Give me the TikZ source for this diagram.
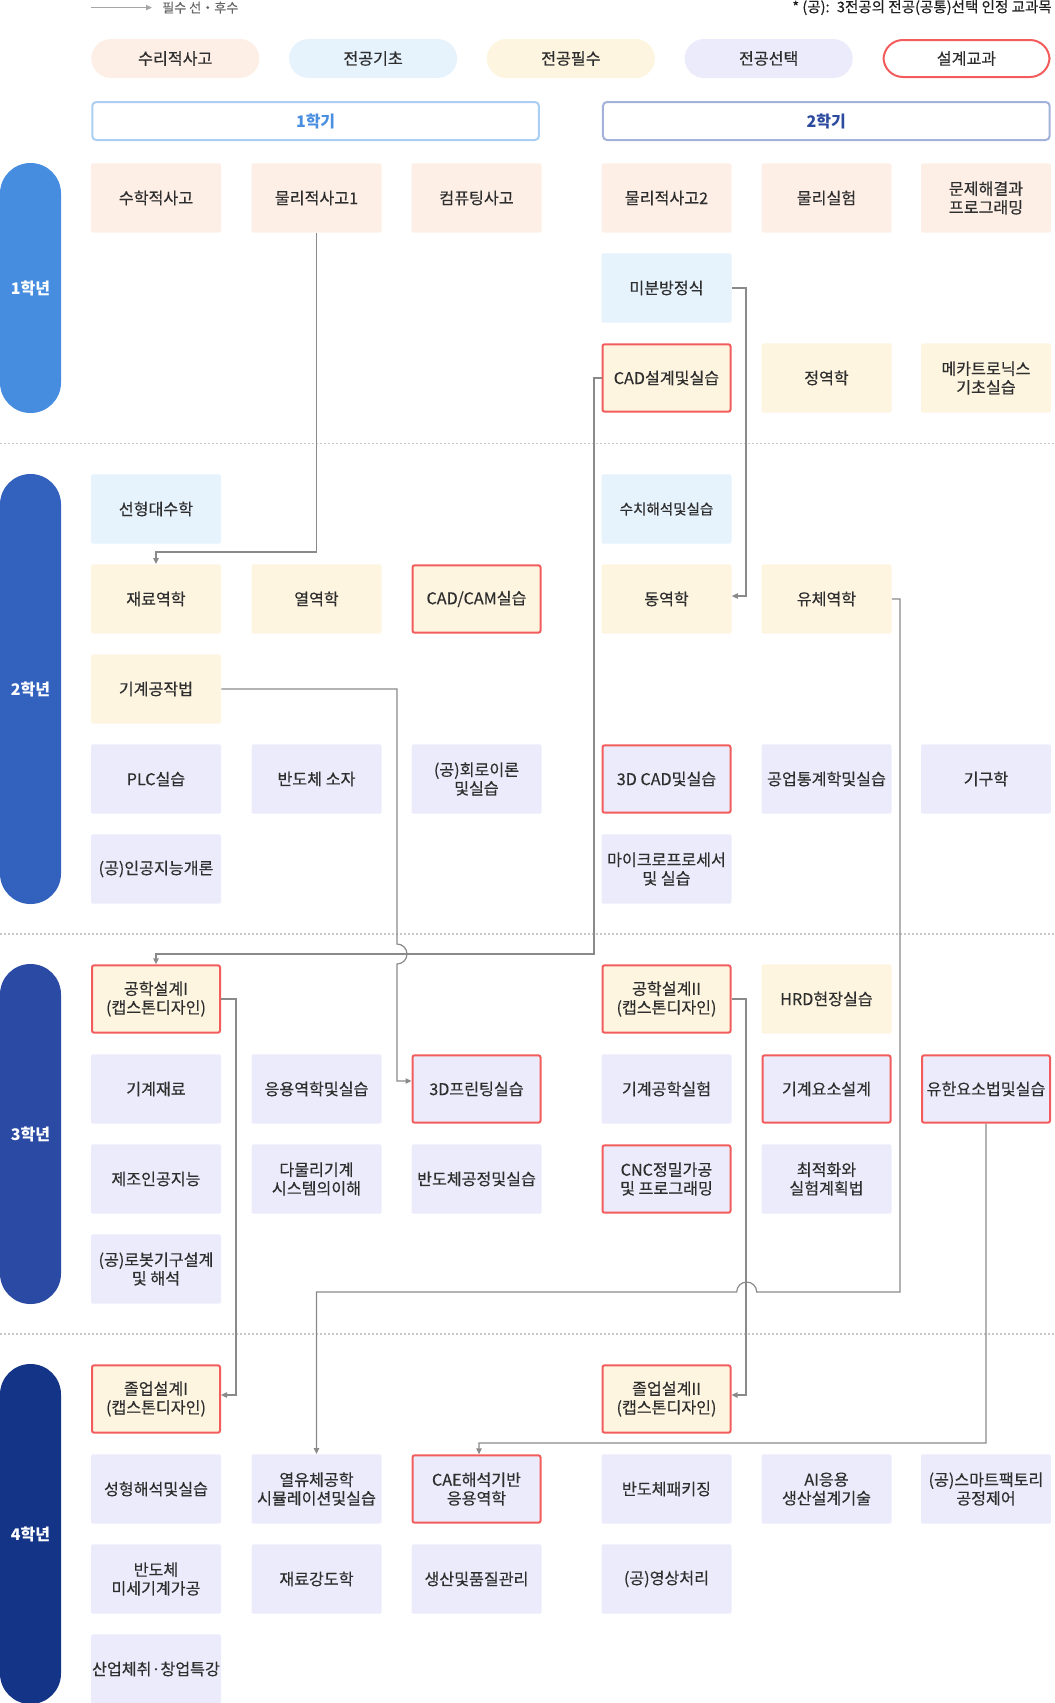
\documentclass[tikz,border=0pt]{standalone}
\usepackage{fontspec}
\setmainfont{Noto Sans CJK KR}
\newfontfamily\medfont{Noto Sans CJK KR}[FakeBold=0.35]
\usetikzlibrary{arrows.meta}
\definecolor{peach}{HTML}{FDEFE6}
\definecolor{sky}{HTML}{E6F3FD}
\definecolor{cream}{HTML}{FDF5E0}
\definecolor{lav}{HTML}{EBEBFB}
\definecolor{redb}{HTML}{F25C5C}
\definecolor{txt}{HTML}{2E2E2E}
\definecolor{yrA}{HTML}{468DE0}
\definecolor{yrB}{HTML}{3262BE}
\definecolor{yrC}{HTML}{2A4AA3}
\definecolor{yrD}{HTML}{143487}
\definecolor{connc}{HTML}{8A8A8A}
\definecolor{semA}{HTML}{ABCFF3}
\definecolor{semB}{HTML}{A3B2DA}
\definecolor{semAt}{HTML}{4A8FE0}
\definecolor{semBt}{HTML}{2C4A9E}
\begin{document}
\begin{tikzpicture}[x=0.75pt,y=-0.75pt,
  box/.style={minimum width=97.5pt, minimum height=52pt, inner sep=0pt, align=center,
    rounded corners=1.5pt, text=txt, font=\medfont\fontsize{12.1pt}{14pt}\selectfont},
  mathc/.style={box, fill=peach},
  basec/.style={box, fill=sky},
  reqc/.style={box, fill=cream},
  elecc/.style={box, fill=lav},
  design/.style={draw=redb, line width=1.5pt, minimum width=96pt, minimum height=50.5pt},
  yearpill/.style={minimum width=45.75pt, inner sep=0pt, rounded corners=22.8pt,
    text=white, font=\bfseries\fontsize{12pt}{14pt}\selectfont},
  legpill/.style={minimum width=126pt, minimum height=29.25pt, inner sep=0pt,
    rounded corners=14.6pt, text=txt, font=\medfont\fontsize{12.1pt}{14pt}\selectfont},
  sembox/.style={minimum width=335pt, minimum height=28.5pt, inner sep=0pt, fill=white,
    rounded corners=3pt, line width=1.5pt, font=\bfseries\fontsize{12pt}{14pt}\selectfont},
  sepline/.style={draw=black!22, line width=0.8pt, dash pattern=on 1.4pt off 1.6pt},
  conn/.style={draw=connc, line width=0.9pt, -{Triangle[length=4.5pt,width=4pt]}},
]
\useasboundingbox (0,0) rectangle (1054,1703);

% legend
\coordinate (la) at (91,7.6);
\coordinate (lb) at (152,7.6);
\draw[draw=black!35, line width=0.9pt, -{Triangle[length=4.5pt,width=4pt]}] (la) -- (lb);
\node[anchor=west, inner sep=0pt, text=black!60, font=\medfont\fontsize{9.8pt}{11pt}\selectfont] (legtxt) at (162,7.6) {필수 선・후수};
\node[anchor=east, inner sep=0pt, text=black!88, font=\medfont\fontsize{10.9pt}{12pt}\selectfont] (note) at (1052,7.6) {* (공):\enspace 3전공의 전공(공통)선택 인정 교과목};

\node[legpill, fill=peach] (lg1) at (175.3,58.5) {수리적사고};
\node[legpill, fill=sky] (lg2) at (373.1,58.5) {전공기초};
\node[legpill, fill=cream] (lg3) at (570.9,58.5) {전공필수};
\node[legpill, fill=lav] (lg4) at (768.7,58.5) {전공선택};
\node[legpill, fill=white, draw=redb, line width=1.5pt, minimum width=124.5pt, minimum height=27.75pt] (lg5) at (966.5,58.5) {설계교과};

% semesters
\node[sembox, draw=semA, text=semAt] (semone) at (315.6,121) {1학기};
\node[sembox, draw=semB, text=semBt] (semtwo) at (826.3,121) {2학기};

% year pills
\node[yearpill, fill=yrA, minimum height=187.5pt] (yone) at (30.5,288) {1학년};
\node[yearpill, fill=yrB, minimum height=322.5pt] (ytwo) at (30.5,689) {2학년};
\node[yearpill, fill=yrC, minimum height=255pt] (ythree) at (30.5,1134) {3학년};
\node[yearpill, fill=yrD, minimum height=255pt] (yfour) at (30.5,1534) {4학년};

% separators
\draw[sepline] (0,443.5) -- (1054,443.5);
\draw[sepline] (0,934) -- (1054,934);
\draw[sepline] (0,1334) -- (1054,1334);

% ---- year 1
\node[mathc] (sh) at (156,198) {수학적사고};
\node[mathc] (p1) at (316.5,198) {물리적사고1};
\node[mathc] (cp) at (476.5,198) {컴퓨팅사고};
\node[mathc] (p2) at (666.5,198) {물리적사고2};
\node[mathc] (ph) at (826.5,198) {물리실험};
\node[mathc] (pr) at (986,198) {문제해결과\\프로그래밍};
\node[basec] (mb) at (666.5,288) {미분방정식};
\node[reqc, design] (cad1) at (666.5,378) {CAD설계및실습};
\node[reqc] (jy) at (826.5,378) {정역학};
\node[reqc] (mk) at (986,378) {메카트로닉스\\기초실습};

% ---- year 2
\node[basec] (sd) at (156,509) {선형대수학};
\node[basec, font=\medfont\fontsize{10.9pt}{13pt}\selectfont] (sc) at (666.5,509) {수치해석및실습};
\node[reqc] (jr) at (156,599) {재료역학};
\node[reqc] (yy) at (316.5,599) {열역학};
\node[reqc, design] (cc) at (476.5,599) {CAD/CAM실습};
\node[reqc] (dy) at (666.5,599) {동역학};
\node[reqc] (yc) at (826.5,599) {유체역학};
\node[reqc] (gj) at (156,689) {기계공작법};
\node[elecc] (plc) at (156,779) {PLC실습};
\node[elecc] (bds) at (316.5,779) {반도체 소자};
\node[elecc] (hr) at (476.5,779) {(공)회로이론\\및실습};
\node[elecc, design] (cad3) at (666.5,779) {3D CAD및실습};
\node[elecc] (gt) at (826.5,779) {공업통계학및실습};
\node[elecc] (gg) at (986,779) {기구학};
\node[elecc] (ai) at (156,869) {(공)인공지능개론};
\node[elecc] (mp) at (666.5,869) {마이크로프로세서\\및 실습};

% ---- year 3
\node[reqc, design] (gs1) at (156,999) {공학설계I\\(캡스톤디자인)};
\node[reqc, design] (gs2) at (666.5,999) {공학설계II\\(캡스톤디자인)};
\node[reqc] (hrd) at (826.5,999) {HRD현장실습};
\node[elecc] (gjr) at (156,1089) {기계재료};
\node[elecc] (ey) at (316.5,1089) {응용역학및실습};
\node[elecc, design] (p3d) at (476.5,1089) {3D프린팅실습};
\node[elecc] (gsh) at (666.5,1089) {기계공학실험};
\node[elecc, design] (gys) at (826.5,1089) {기계요소설계};
\node[elecc, design] (yh) at (986,1089) {유한요소법및실습};
\node[elecc] (jai) at (156,1179) {제조인공지능};
\node[elecc] (dm) at (316.5,1179) {다물리기계\\시스템의이해};
\node[elecc] (bgj) at (476.5,1179) {반도체공정및실습};
\node[elecc, design] (cnc) at (666.5,1179) {CNC정밀가공\\및 프로그래밍};
\node[elecc] (cj) at (826.5,1179) {최적화와\\실험계획법};
\node[elecc] (rb) at (156,1269) {(공)로봇기구설계\\및 해석};

% ---- year 4
\node[reqc, design] (jo1) at (156,1399) {졸업설계I\\(캡스톤디자인)};
\node[reqc, design] (jo2) at (666.5,1399) {졸업설계II\\(캡스톤디자인)};
\node[elecc] (sh4) at (156,1489) {성형해석및실습};
\node[elecc] (yul) at (316.5,1489) {열유체공학\\시뮬레이션및실습};
\node[elecc, design] (cae) at (476.5,1489) {CAE해석기반\\응용역학};
\node[elecc] (bp) at (666.5,1489) {반도체패키징};
\node[elecc] (aig) at (826.5,1489) {AI응용\\생산설계기술};
\node[elecc] (sf) at (986,1489) {(공)스마트팩토리\\공정제어};
\node[elecc] (bm) at (156,1579) {반도체\\미세기계가공};
\node[elecc] (jg) at (316.5,1579) {재료강도학};
\node[elecc] (spq) at (476.5,1579) {생산및품질관리};
\node[elecc] (yj) at (666.5,1579) {(공)영상처리};
\node[elecc] (sc4) at (156,1669) {산업체취·창업특강};

% ---- connectors
\draw[conn] (p1.south) |- (156,552) -- (jr.north);
\draw[conn] (mb.east) -- (746,288) |- ([yshift=2.25pt]dy.east);
\draw[conn] (cad1.west) -| (594,954) -- (156,954) -- (gs1.north);
\draw[conn] (gj.east) -| (397,944) arc[start angle=90,end angle=-90,radius=7.5pt] |- ([yshift=6pt]p3d.west);
\draw[conn] (yc.east) -| (900,1292) -- (756.7,1292) arc[start angle=0,end angle=180,radius=7.5pt] -- (316.5,1292) -- (yul.north);
\draw[conn] (gs1.east) -- (236,999) |- ([yshift=3pt]jo1.east);
\draw[conn] (gs2.east) -- (746,999) |- ([yshift=3pt]jo2.east);
\draw[conn] (yh.south) |- (479,1443) -- ([xshift=1.9pt]cae.north);
\end{tikzpicture}
\end{document}
